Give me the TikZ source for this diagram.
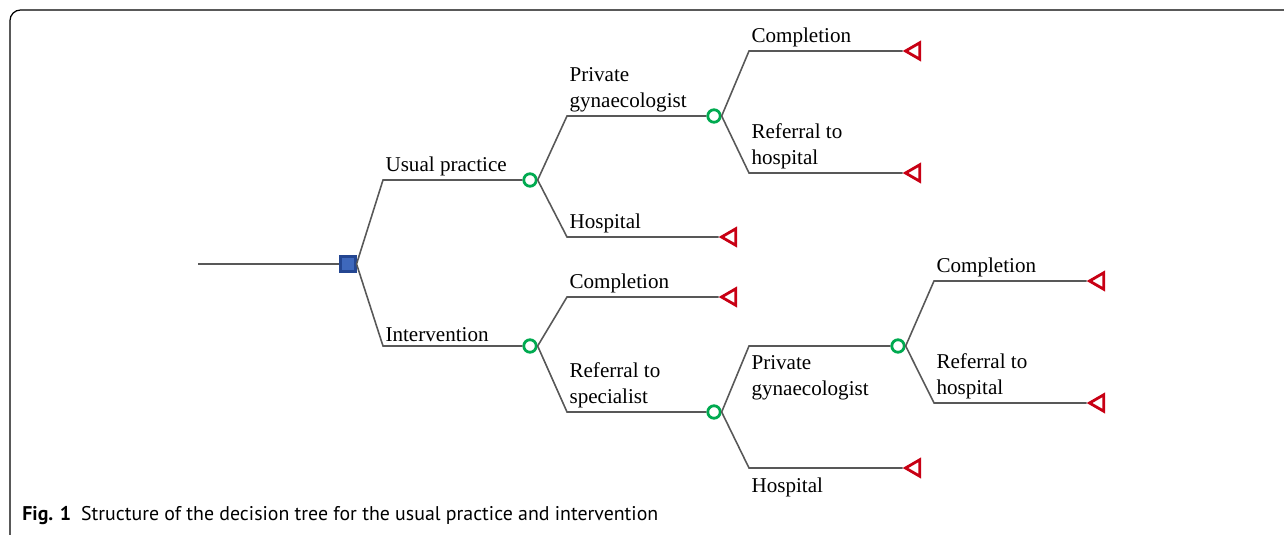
\documentclass[tikz,border=0pt]{standalone}
\usepackage{fontspec}
\setmainfont{Liberation Serif}
\newfontfamily\capfont{PT Sans}
\usetikzlibrary{shapes.geometric, positioning, calc}
\definecolor{mygrey}{RGB}{88,88,88}
\definecolor{myblue}{RGB}{62,104,188}
\definecolor{mybluedark}{RGB}{36,70,145}
\definecolor{mygreen}{RGB}{0,170,80}
\definecolor{myred}{RGB}{200,0,20}
\tikzset{
  decnode/.style={rectangle, draw=mybluedark, fill=myblue,
    minimum size=0.3cm, inner sep=0pt, line width=1.2pt},
  chancenode/.style={circle, draw=mygreen, fill=white,
    minimum size=0.25cm, inner sep=0pt, line width=1.6pt},
  termnode/.style={regular polygon, regular polygon sides=3,
    regular polygon rotate=90, draw=myred, fill=white,
    minimum size=0.38cm, inner sep=0pt, line width=1.6pt},
  branch/.style={color=mygrey, line width=0.9pt},
  lblup/.style={anchor=south west, align=left, inner sep=1pt,
    yshift=1pt, text=black, font=\fontsize{12}{14.7}\selectfont},
  lbldown/.style={anchor=north west, align=left, inner sep=1pt,
    yshift=-4pt, text=black, font=\fontsize{12}{14.7}\selectfont}
}

\begin{document}
\begin{tikzpicture}[x=0.02cm, y=-0.02cm]
  \useasboundingbox (0,0) rectangle (1284,534);

  % Frame
  \draw[black, line width=0.7pt, rounded corners=6pt] (10,540) -- (10,10) -- (1290,10);

  % Columns of the elbows
  \coordinate (col1) at (383,0);
  \coordinate (col2) at (567,0);
  \coordinate (col3) at (749,0);
  \coordinate (col4) at (934,0);

  % Decision node
  \coordinate (start) at (198,264);
  \node[decnode] (dec) at (348,264) {};

  % Chance nodes
  \node[chancenode] (usual) at (530,180) {};
  \node[chancenode] (interv) at (530,346) {};
  \node[chancenode] (usualPriv) at (714,116) {};
  \node[chancenode] (intervRef) at (714,412) {};
  \node[chancenode] (intervPriv) at (898,346) {};

  % Terminal nodes
  \node[termnode] (usualPrivComp) at (915,51) {};
  \node[termnode] (usualPrivRef) at (915,173) {};
  \node[termnode] (usualHosp) at (731,237) {};
  \node[termnode] (intervComp) at (731,297) {};
  \node[termnode] (intervRefHosp) at (915,468) {};
  \node[termnode] (intervPrivComp) at (1099,281) {};
  \node[termnode] (intervPrivRef) at (1099,403) {};

  % Branches
  \draw[branch] (start) -- (dec);
  \draw[branch] (dec.east) -- (col1 |- usual) node[lblup] {Usual practice} -- (usual);
  \draw[branch] (dec.east) -- (col1 |- interv) node[lblup] {Intervention} -- (interv);

  \draw[branch] (usual.east) -- (col2 |- usualPriv) node[lblup] {Private\\gynaecologist} -- (usualPriv);
  \draw[branch] (usual.east) -- (col2 |- usualHosp) node[lblup] {Hospital} -- (usualHosp);
  \draw[branch] (usualPriv.east) -- (col3 |- usualPrivComp) node[lblup] {Completion} -- (usualPrivComp);
  \draw[branch] (usualPriv.east) -- (col3 |- usualPrivRef) node[lblup] {Referral to\\hospital} -- (usualPrivRef);

  \draw[branch] (interv.east) -- (col2 |- intervComp) node[lblup] {Completion} -- (intervComp);
  \draw[branch] (interv.east) -- (col2 |- intervRef) node[lblup] {Referral to\\specialist} -- (intervRef);
  \draw[branch] (intervRef.east) -- (col3 |- intervPriv) node[lbldown] {Private\\gynaecologist} -- (intervPriv);
  \draw[branch] (intervRef.east) -- (col3 |- intervRefHosp) node[lbldown] {Hospital} -- (intervRefHosp);
  \draw[branch] (intervPriv.east) -- (col4 |- intervPrivComp) node[lblup] {Completion} -- (intervPrivComp);
  \draw[branch] (intervPriv.east) -- (col4 |- intervPrivRef) node[lblup] {Referral to\\hospital} -- (intervPrivRef);

  % Caption
  \node[anchor=west, inner sep=0pt, font=\capfont\fontsize{11.3}{13}\selectfont] (caption) at (22,516)
    {\textbf{Fig. 1}\hspace{0.5em}Structure of the decision tree for the usual practice and intervention};
\end{tikzpicture}
\end{document}
